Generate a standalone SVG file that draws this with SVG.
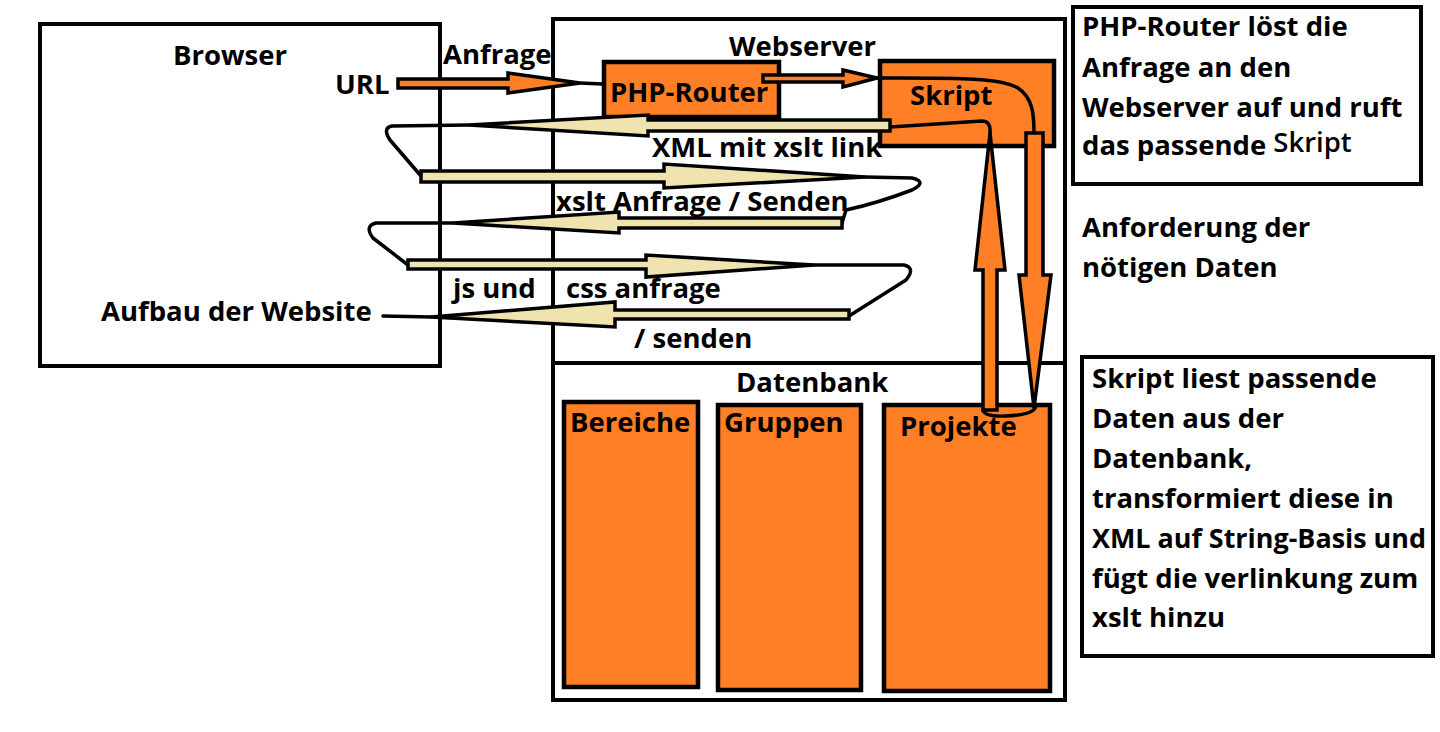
<svg xmlns="http://www.w3.org/2000/svg" width="1440" height="732" viewBox="0 0 1440 732">
<style>
  text { font-family: "Open Sans", "Noto Sans", "Liberation Sans", sans-serif; font-weight: bold; font-size: 27.5px; fill: #000; }
  .box { fill: #fff; stroke: #000; stroke-width: 4; }
  .obox { fill: #FF7F27; stroke: #000; stroke-width: 4.5; }
  .oarrow { fill: #FF7F27; stroke: #000; stroke-width: 3.5; stroke-linejoin: miter; }
  .barrow { fill: #EFE4B0; stroke: #000; stroke-width: 3.5; stroke-linejoin: miter; }
  .wire { fill: none; stroke: #000; stroke-width: 3.5; stroke-linecap: round; stroke-linejoin: round; }
</style>
<rect width="1440" height="732" fill="#fff"/>

<g id="browser">
  <rect class="box" x="40" y="24" width="400" height="342"/>
  <text x="173" y="65">Browser</text>
  <text x="335" y="94">URL</text>
  <text x="101" y="321">Aufbau der Website</text>
</g>

<g id="webserver">
  <rect class="box" x="553" y="19" width="512" height="681"/>
  <line x1="553" y1="363" x2="1065" y2="363" stroke="#000" stroke-width="4"/>
  <text x="729" y="56">Webserver</text>
</g>

<g id="php-router">
  <rect class="obox" x="604" y="62" width="175" height="55"/>
  <text x="610" y="102">PHP-Router</text>
</g>

<g id="skript">
  <rect class="obox" x="880" y="61" width="174" height="85"/>
  <text x="910" y="105">Skript</text>
</g>

<g id="datenbank">
  <text x="736" y="392">Datenbank</text>
</g>

<g id="bereiche">
  <rect class="obox" x="564" y="402" width="134" height="285"/>
  <text x="570" y="432">Bereiche</text>
</g>

<g id="gruppen">
  <rect class="obox" x="718" y="405" width="143" height="285"/>
  <text x="724" y="432">Gruppen</text>
</g>

<g id="projekte">
  <rect class="obox" x="884" y="405" width="166" height="286"/>
  <text x="900" y="436">Projekte</text>
</g>

<g id="note-router">
  <rect class="box" x="1073" y="7" width="348" height="177"/>
  <text x="1082" y="36">PHP-Router löst die</text>
  <text x="1082" y="77">Anfrage an den</text>
  <text x="1082" y="117">Webserver auf und ruft</text>
  <text x="1082" y="155">das passende <tspan dy="-3" font-weight="600">Skript</tspan></text>
</g>

<g id="note-anforderung">
  <text x="1082" y="237">Anforderung der</text>
  <text x="1082" y="277">nötigen Daten</text>
</g>

<g id="note-skript">
  <rect class="box" x="1082" y="357" width="351" height="299"/>
  <text x="1092" y="388">Skript liest passende</text>
  <text x="1092" y="428">Daten aus der</text>
  <text x="1092" y="468">Datenbank,</text>
  <text x="1092" y="508">transformiert diese in</text>
  <text x="1092" y="548" textLength="334" lengthAdjust="spacingAndGlyphs">XML auf String-Basis und</text>
  <text x="1092" y="588">fügt die verlinkung zum</text>
  <text x="1092" y="627">xslt hinzu</text>
</g>

<g id="connectors">
  <!-- URL -> PHP-Router -->
  <polygon class="oarrow" points="398,79 508,79 508,73 580,83 508,93 508,88 398,88"/>
  <path class="wire" d="M580,83 L602,84"/>
  <!-- PHP-Router -> Skript -->
  <polygon class="oarrow" points="763,75 843,75 843,70 877,78 843,87 843,82 763,82"/>
  <path class="wire" d="M877,78 C950,78 1000,77 1018,88 C1033,98 1034,115 1034,133"/>
  <!-- Skript -> Projekte (down) -->
  <polygon class="oarrow" points="1026,133 1043,133 1043,275 1051,275 1034,408 1019,275 1026,275"/>
  <!-- Projekte -> Skript (up) -->
  <polygon class="oarrow" points="990,133 1005,270 997,270 997,410 983,410 983,270 975,270"/>
  <path class="wire" d="M983,410 Q985,417 1005,416 Q1036,415 1036,405"/>
  <path class="wire" d="M890,127 L982,121 Q991,121 990,133"/>
  <!-- XML mit xslt link (left) -->
  <polygon class="barrow" points="890,120 648,120 648,115 469,125 648,136 648,131 890,131"/>
  <path class="wire" d="M469,125 L392,126 Q382,128 390,140 L421,176"/>
  <!-- xslt Anfrage (right) -->
  <polygon class="barrow" points="421,171 664,171 664,164 865,177 664,188 664,182 421,182"/>
  <path class="wire" d="M865,177 L912,178 Q928,182 912,190 Q878,203 846,210 L842,223"/>
  <!-- xslt Senden (left) -->
  <polygon class="barrow" points="842,218 619,218 619,212 453,223 619,233 619,228 842,228"/>
  <path class="wire" d="M453,223 L376,223 Q364,226 373,238 L408,265"/>
  <!-- js und css anfrage (right) -->
  <polygon class="barrow" points="408,260 646,260 646,255 814,265 646,277 646,269 408,269"/>
  <path class="wire" d="M814,265 L904,265 Q916,268 906,280 L849,316"/>
  <!-- senden (left) -->
  <polygon class="barrow" points="849,310 615,310 615,302 431,317 615,327 615,319 849,319"/>
  <path class="wire" d="M431,317 L383,316"/>
  <!-- labels -->
  <text x="443" y="64">Anfrage</text>
  <text x="652" y="157">XML mit xslt link</text>
  <text x="556" y="211">xslt Anfrage / Senden</text>
  <text x="453" y="298">js und</text>
  <text x="566" y="298">css anfrage</text>
  <text x="634" y="348">/ senden</text>
</g>
</svg>
